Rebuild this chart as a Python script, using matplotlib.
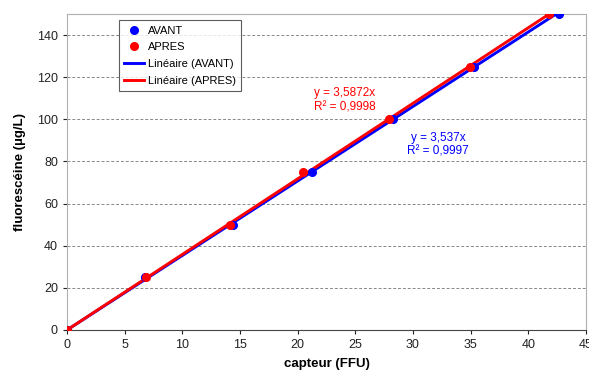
import numpy as np
import matplotlib.pyplot as plt

plt.rcParams['font.family'] = ['Liberation Sans', 'DejaVu Sans']

# donnees
conc = [0, 25, 50, 75, 100, 125, 150]
ffu_avant = [0, 6.8, 14.4, 21.2, 28.3, 35.3, 42.7]
ffu_apres = [0, 6.85, 14.1, 20.5, 27.9, 34.95, 41.8]
pente_avant = 3.537
pente_apres = 3.5872
eq_avant = "y = 3,537x\nR² = 0,9997"
eq_apres = "y = 3,5872x\nR² = 0,9998"

fig = plt.figure(figsize=(5.89, 3.72), dpi=100)
ax = fig.add_axes([67/589, 42/372, 519/589, 316/372])

# droites de tendance
xa = np.array([0, max(ffu_avant)])
xp = np.array([0, max(ffu_apres)])
ax.plot(xa, pente_avant * xa, color='#0000ff', lw=2.1, label='Linéaire (AVANT)', zorder=3)
ax.plot(xp, pente_apres * xp, color='#ff0000', lw=2.1, label='Linéaire (APRES)', zorder=4)
ax.plot(ffu_avant, conc, 'o', color='#0000ff', ms=5.5, label='AVANT', zorder=5)
ax.plot(ffu_apres, conc, 'o', color='#ff0000', ms=5.5, label='APRES', zorder=5)

ax.set_xlim(0, 45)
ax.set_ylim(0, 150)
ax.set_xticks(np.arange(0, 46, 5))
ax.set_yticks(np.arange(0, 141, 20))
ax.tick_params(labelsize=9, colors='#222222', length=3)
for y in range(20, 141, 20):
    ax.axhline(y, color='#888888', lw=0.7, ls=(0, (3, 2)), zorder=1)

for s in ['top', 'right', 'left']:
    ax.spines[s].set_color('#b0b0b0')
ax.spines['bottom'].set_color('#444444')

ax.set_xlabel('capteur (FFU)', fontsize=9.5, fontweight='bold', labelpad=5)
ax.set_ylabel('fluorescéine (µg/L)', fontsize=9.5, fontweight='bold', labelpad=8)

ax.text(24.1, 109, eq_apres, color='#ff0000', fontsize=8.5, ha='center', va='center')
ax.text(32.2, 88, eq_avant, color='#0000ff', fontsize=8.5, ha='center', va='center')

h, l = ax.get_legend_handles_labels()
order = [2, 3, 0, 1]
leg = ax.legend([h[i] for i in order], [l[i] for i in order], loc='upper left',
                bbox_to_anchor=(0.1, 0.981), borderaxespad=0, fontsize=8, frameon=True,
                fancybox=False, edgecolor='#333333', handlelength=1.8, handletextpad=0.3,
                borderpad=0.5, labelspacing=0.6)
leg.get_frame().set_linewidth(0.8)

fig.savefig('out.png', dpi=100)
